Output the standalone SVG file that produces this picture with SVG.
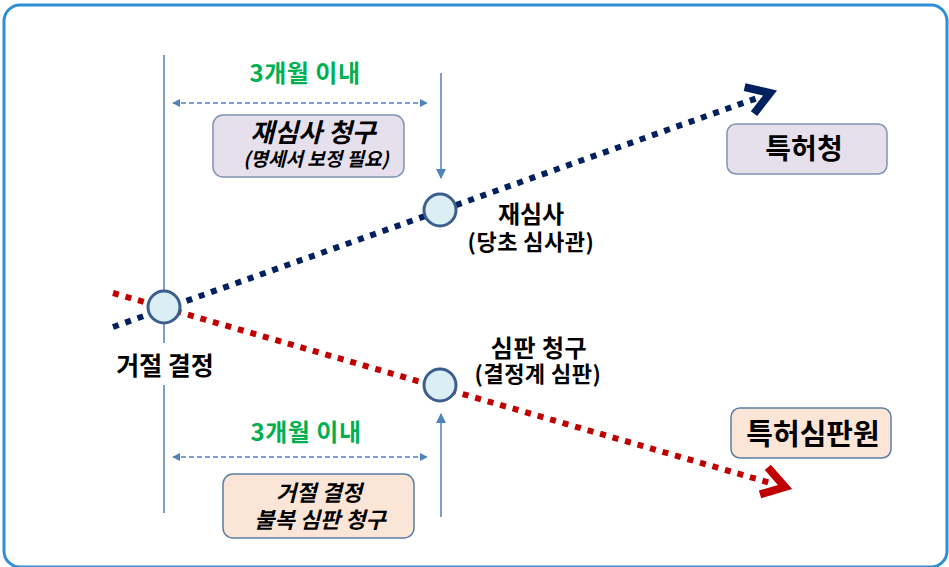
<svg xmlns="http://www.w3.org/2000/svg" width="949" height="567" viewBox="0 0 949 567">
<defs>
<style>
.t{font-family:"Noto Sans CJK KR","Noto Sans",sans-serif;font-weight:bold;text-anchor:middle;fill:#000}
.g{fill:#00b050}
.i{font-style:italic}
.thin{stroke:#4f81bd;stroke-width:1.5;fill:none}
.dash{stroke:#4f81bd;stroke-width:1.5;fill:none;stroke-dasharray:5 3}
.node{fill:#daeef3;stroke:#3b5e8c;stroke-width:3}
.lav{fill:#e6e0ec;stroke:#7f93b3;stroke-width:1.5}
.peach{fill:#fbe5d6;stroke:#5a7fa8;stroke-width:1.5}
</style>
<marker id="ah" viewBox="0 0 10 10" refX="9" refY="5" markerWidth="8" markerHeight="8" markerUnits="userSpaceOnUse" orient="auto-start-reverse">
<path d="M0,0 L10,5 L0,10 z" fill="#4f81bd"/>
</marker>
<marker id="ah2" viewBox="0 0 10 10" refX="9" refY="5" markerWidth="10" markerHeight="10" markerUnits="userSpaceOnUse" orient="auto">
<path d="M0,0 L10,5 L0,10 z" fill="#4f81bd"/>
</marker>
</defs>
<rect x="4" y="5" width="943" height="562" rx="16" fill="#fff" stroke="#2e8fd6" stroke-width="3"/>
<g id="connectors">
<line class="thin" x1="164" y1="55" x2="164" y2="343"/>
<line class="thin" x1="164" y1="385" x2="164" y2="513"/>
<line class="thin" x1="441" y1="73" x2="441" y2="178" marker-end="url(#ah2)"/>
<line class="thin" x1="441" y1="517" x2="441" y2="414" marker-end="url(#ah2)"/>
<line class="dash" x1="173" y1="103" x2="427" y2="103" marker-start="url(#ah)" marker-end="url(#ah)"/>
<line class="dash" x1="173" y1="457" x2="427" y2="457" marker-start="url(#ah)" marker-end="url(#ah)"/>
<line x1="113" y1="327" x2="760" y2="97" stroke="#002060" stroke-width="6" stroke-dasharray="6 7"/>
<polyline points="744.6,87.2 770,93 754,113.6" fill="none" stroke="#002060" stroke-width="8" stroke-linejoin="miter"/>
<line x1="113" y1="293" x2="774" y2="484" stroke="#c00000" stroke-width="6" stroke-dasharray="6 7"/>
<polyline points="767.8,467.4 785,487 760,494.4" fill="none" stroke="#c00000" stroke-width="8" stroke-linejoin="miter"/>
</g>
<g id="n-reject">
<circle class="node" cx="164" cy="307" r="16"/>
<text class="t" x="165" y="375" font-size="25">거절 결정</text>
</g>
<g id="n-reexam">
<circle class="node" cx="440" cy="210" r="16"/>
<text class="t" x="531" y="223" font-size="24">재심사</text>
<text class="t" x="531" y="250" font-size="22" letter-spacing="0.5">(당초 심사관)</text>
</g>
<g id="n-trial">
<circle class="node" cx="440" cy="385" r="16"/>
<text class="t" x="539" y="357" font-size="24" letter-spacing="0.5">심판 청구</text>
<text class="t" x="538" y="382" font-size="22" letter-spacing="0.5">(결정계 심판)</text>
</g>
<g id="lbl-top">
<text class="t g" x="305" y="82" font-size="24" letter-spacing="0.5">3개월 이내</text>
</g>
<g id="lbl-bottom">
<text class="t g" x="306" y="441" font-size="24" letter-spacing="0.5">3개월 이내</text>
</g>
<g id="box-reexam">
<rect class="lav" x="213" y="115" width="191" height="62" rx="10"/>
<text class="t i" x="313" y="142" font-size="26">재심사 청구</text>
<text class="t i" x="316" y="166" font-size="19">(명세서 보정 필요)</text>
</g>
<g id="box-appeal">
<rect class="peach" x="223" y="474" width="191" height="64" rx="10"/>
<text class="t i" x="319" y="501" font-size="22">거절 결정</text>
<text class="t i" x="320" y="528" font-size="22">불복 심판 청구</text>
</g>
<g id="kipo">
<rect class="lav" x="727" y="124" width="160" height="50" rx="9"/>
<text class="t" x="804" y="159" font-size="28">특허청</text>
</g>
<g id="ipt">
<rect class="peach" x="731" y="408" width="160" height="50" rx="9"/>
<text class="t" x="813" y="445" font-size="29">특허심판원</text>
</g>
</svg>
